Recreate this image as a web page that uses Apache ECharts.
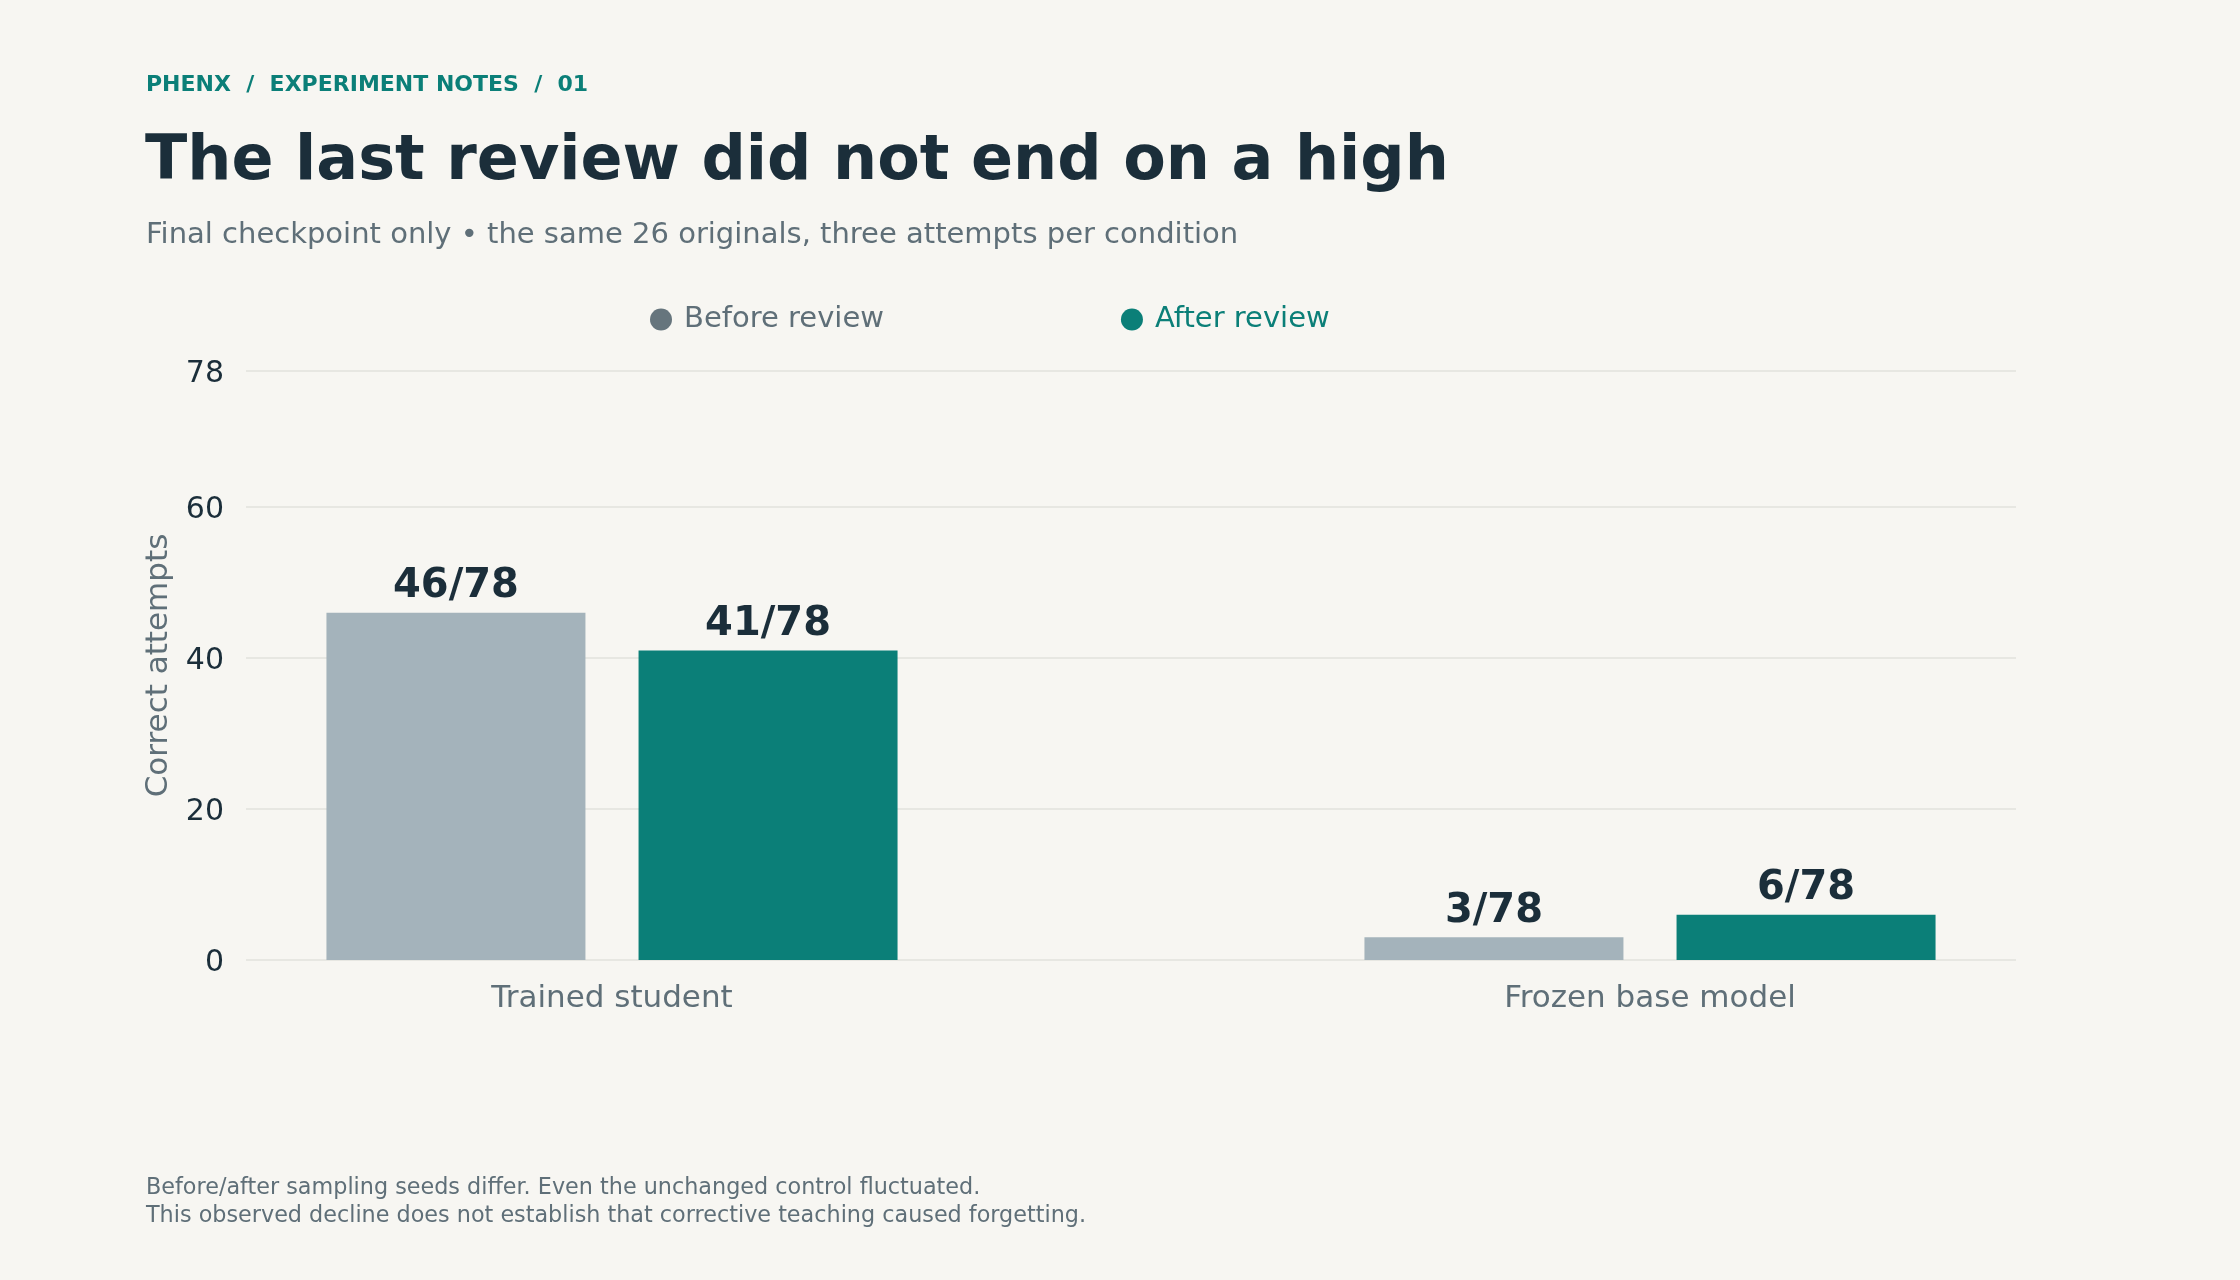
<!DOCTYPE html>
<html>
<head>
<meta charset="utf-8">
<script src="https://cdn.jsdelivr.net/npm/echarts@6/dist/echarts.min.js"></script>
<style>
  html, body { margin: 0; padding: 0; background: #f7f6f2; }
  #chart { width: 2240px; height: 1280px; }
</style>
</head>
<body>
<div id="chart"></div>
<script>
var categories = ['Trained student', 'Frozen base model'];
var seriesNames = ['Before review', 'After review'];
var beforeValues = [46, 3];
var afterValues = [41, 6];
var totalAttempts = 78;
var yTicks = [0, 20, 40, 60, 78];

var ink = '#1b2e3a';
var muted = '#5f6f78';
var teal = '#0b7f78';
var grey = '#a4b3bb';
var font = 'DejaVu Sans';

var chart = echarts.init(document.getElementById('chart'), null, { renderer: 'canvas' });

function valueLabel(p) {
  return p.value + '/' + totalAttempts;
}

var option = {
  backgroundColor: '#f7f6f2',
  textStyle: { fontFamily: font },
  title: [
    {
      text: 'PHENX  /  EXPERIMENT NOTES  /  01',
      left: 146, top: 73, padding: 0,
      textStyle: { color: teal, fontSize: 22, fontWeight: 'bold', fontFamily: font, lineHeight: 24 }
    },
    {
      text: 'The last review did not end on a high',
      left: 145, top: 132, padding: 0,
      textStyle: { color: ink, fontSize: 62, fontWeight: 'bold', fontFamily: font, lineHeight: 62 }
    },
    {
      text: 'Final checkpoint only \u2022 the same 26 originals, three attempts per condition',
      left: 146, top: 220, padding: 0,
      textStyle: { color: muted, fontSize: 29, fontWeight: 'normal', fontFamily: font, lineHeight: 30 }
    },
    {
      text: 'Before/after sampling seeds differ. Even the unchanged control fluctuated.\nThis observed decline does not establish that corrective teaching caused forgetting.',
      left: 146, top: 1174, padding: 0,
      textStyle: { color: muted, fontSize: 22.3, fontWeight: 'normal', fontFamily: font, lineHeight: 28 }
    }
  ],
  legend: {
    left: 650, top: 305, padding: 0,
    icon: 'circle',
    itemWidth: 22, itemHeight: 22,
    itemGap: 237,
    textStyle: { fontSize: 29, fontFamily: font, padding: [0, 0, 0, 7] },
    data: [
      { name: seriesNames[0], itemStyle: { color: '#66757d' }, textStyle: { color: muted } },
      { name: seriesNames[1], itemStyle: { color: teal }, textStyle: { color: teal } }
    ]
  },
  grid: [
    { left: 246, right: 224, top: 371, bottom: 320 },
    { left: 93, right: 71, top: 371, bottom: 320 }
  ],
  xAxis: [
    { type: 'category', gridIndex: 0, data: categories, show: false },
    {
      type: 'category', gridIndex: 1, data: categories,
      axisLine: { show: false }, axisTick: { show: false },
      axisLabel: { color: muted, fontSize: 31, fontFamily: font, margin: 23 }
    }
  ],
  yAxis: [
    {
      type: 'value', gridIndex: 0, min: 0, max: totalAttempts, interval: 20,
      name: 'Correct attempts', nameLocation: 'middle', nameGap: 67, nameRotate: 90,
      nameTextStyle: { color: muted, fontSize: 31, fontFamily: font },
      axisLine: { show: false }, axisTick: { show: false },
      axisLabel: {
        margin: 22,
        showMinLabel: true, showMaxLabel: true,
        formatter: function (v) { return yTicks.indexOf(v) >= 0 ? '{t|' + v + '}' : ''; },
        rich: {
          t: { color: ink, fontSize: 30, fontFamily: font, padding: [6, 0, 0, 0] }
        }
      },
      splitLine: { show: true, lineStyle: { color: '#e2e2dd', width: 1.5 } }
    },
    {
      type: 'value', gridIndex: 1, min: 0, max: totalAttempts, interval: 20, show: false
    }
  ],
  series: [
    {
      name: seriesNames[0], type: 'bar', xAxisIndex: 1, yAxisIndex: 1,
      data: beforeValues, barWidth: 259, barGap: '20.5%',
      itemStyle: { color: grey },
      label: { show: true, position: 'top', distance: 6, formatter: valueLabel,
        color: ink, fontSize: 40, fontWeight: 'bold', fontFamily: font }
    },
    {
      name: seriesNames[1], type: 'bar', xAxisIndex: 1, yAxisIndex: 1,
      data: afterValues, barWidth: 259, barGap: '20.5%',
      itemStyle: { color: teal },
      label: { show: true, position: 'top', distance: 6, formatter: valueLabel,
        color: ink, fontSize: 40, fontWeight: 'bold', fontFamily: font }
    }
  ]
};

chart.setOption(option);
</script>
</body>
</html>
